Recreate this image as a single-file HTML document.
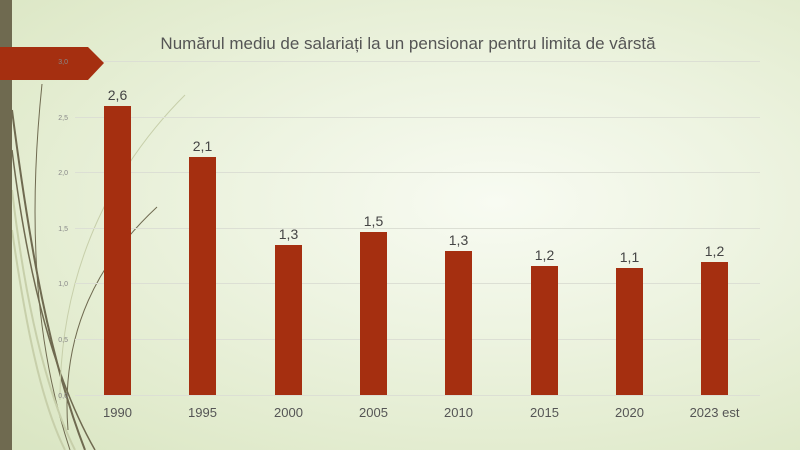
<!DOCTYPE html>
<html><head><style>
body{margin:0}
#c{width:800px;height:450px;position:relative;overflow:hidden;font-family:"Liberation Sans",sans-serif;
background:radial-gradient(ellipse at 62% 45%,#f8fbf2 0%,#eef4e2 35%,#e0eacb 80%,#d9e5c2 100%);}
</style></head><body><div id="c">
<svg width="800" height="450" style="position:absolute;left:0;top:0">
<g fill="none">
<path d="M12 110 C30 250 50 360 85 450" stroke="#6f6a50" stroke-width="2"/>
<path d="M12 150 C28 280 55 380 95 450" stroke="#6f6a50" stroke-width="1.5"/>
<path d="M42 84 C30 200 30 330 70 450" stroke="#6f6a50" stroke-width="1"/>
<path d="M12 190 C25 300 45 390 75 450" stroke="#c7cfaa" stroke-width="2"/>
<path d="M12 230 C25 320 40 400 65 450" stroke="#c7cfaa" stroke-width="2"/>
<path d="M185 95 C120 160 60 260 60 400" stroke="#c7cfaa" stroke-width="1"/>
<path d="M157 207 C100 260 60 330 68 430" stroke="#6f6a50" stroke-width="1"/>
</g>
<rect x="0" y="0" width="12" height="450" fill="#6f6a50"/>
<g stroke="#dcdfd4" stroke-width="1">
<line x1="75" y1="61.5" x2="760" y2="61.5"/>
<line x1="75" y1="117.5" x2="760" y2="117.5"/>
<line x1="75" y1="172.5" x2="760" y2="172.5"/>
<line x1="75" y1="228.5" x2="760" y2="228.5"/>
<line x1="75" y1="283.5" x2="760" y2="283.5"/>
<line x1="75" y1="339.5" x2="760" y2="339.5"/>
<line x1="75" y1="395.5" x2="760" y2="395.5"/>
</g>
<polygon points="0,47 88,47 104,63 88,80 0,80" fill="#a52f10"/>
<g font-size="7" fill="#888" text-anchor="end">
<text x="68" y="64">3,0</text><text x="68" y="120">2,5</text><text x="68" y="175">2,0</text>
<text x="68" y="231">1,5</text><text x="68" y="286">1,0</text><text x="68" y="342">0,5</text><text x="68" y="398">0,0</text>
</g>
<g fill="#a52f10">
<rect x="104" y="106" width="27" height="289"/>
<rect x="189" y="157" width="27" height="238"/>
<rect x="275" y="245" width="27" height="150"/>
<rect x="360" y="232" width="27" height="163"/>
<rect x="445" y="251" width="27" height="144"/>
<rect x="531" y="266" width="27" height="129"/>
<rect x="616" y="268" width="27" height="127"/>
<rect x="701" y="262" width="27" height="133"/>
</g>
<g font-size="14" fill="#444" text-anchor="middle">
<text x="117.5" y="100">2,6</text><text x="202.5" y="151">2,1</text><text x="288.5" y="239">1,3</text>
<text x="373.5" y="226">1,5</text><text x="458.5" y="245">1,3</text><text x="544.5" y="260">1,2</text>
<text x="629.5" y="262">1,1</text><text x="714.5" y="256">1,2</text>
</g>
<g font-size="13" fill="#555" text-anchor="middle">
<text x="117.5" y="417">1990</text><text x="202.5" y="417">1995</text><text x="288.5" y="417">2000</text>
<text x="373.5" y="417">2005</text><text x="458.5" y="417">2010</text><text x="544.5" y="417">2015</text>
<text x="629.5" y="417">2020</text><text x="714.5" y="417">2023 est</text>
</g>
<text x="408" y="49" font-size="17" fill="#555" text-anchor="middle">Numărul mediu de salariați la un pensionar pentru limita de vârstă</text>
</svg>
</div></body></html>
